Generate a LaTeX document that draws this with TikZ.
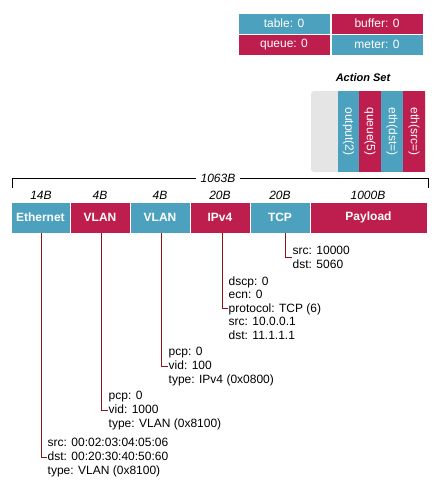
\documentclass[tikz,border=0pt]{standalone}
\usepackage{fontspec}
\setmainfont{Liberation Sans}
\definecolor{tealc}{RGB}{75,161,190}
\definecolor{redc}{RGB}{190,30,77}
\definecolor{connc}{RGB}{140,20,24}
\definecolor{grayc}{RGB}{229,229,229}
\begin{document}
\begin{tikzpicture}[x=1pt,y=-1pt,
  leg/.style={draw=white,line width=1pt,minimum width=92pt,minimum height=21pt,inner sep=0pt,text=white,font=\fontsize{12}{14}\selectfont},
  seg/.style={draw=white,line width=0.3pt,minimum height=31pt,inner sep=0pt,text=white,font=\fontsize{12}{14}\selectfont\bfseries},
  sz/.style={inner sep=0pt,font=\fontsize{12}{14}\selectfont\itshape},
  col/.style={minimum width=22pt,minimum height=81pt,inner sep=0pt},
  coltxt/.style={rotate=-90,text=white,inner sep=0pt,font=\fontsize{12}{14}\selectfont},
  info/.style={anchor=west,align=left,inner sep=0.5pt,font=\fontsize{12}{13.6}\selectfont},
  conn/.style={draw=connc,line width=0.8pt}]
\useasboundingbox (0,0) rectangle (438,488);
% legend
\node[leg,fill=tealc] (ltable) at (284,23.5) {table: 0};
\node[leg,fill=redc] (lbuffer) at (377,23.5) {buffer: 0};
\node[leg,fill=redc] (lqueue) at (284,44.5) {queue: 0};
\node[leg,fill=tealc] (lmeter) at (377,44.5) {meter: 0};
% action set
\node[inner sep=0pt,font=\fontsize{11}{13}\selectfont\bfseries\itshape] (astitle) at (363,78) {Action Set};
\fill[grayc,rounded corners=3pt] (311,91) rectangle (426,172);
\node[col,fill=tealc] (c1) at (348.5,131.5) {};
\node[col,fill=redc] (c2) at (370,131.5) {};
\node[col,fill=tealc] (c3) at (392,131.5) {};
\node[col,fill=redc] (c4) at (414,131.5) {};
\node[coltxt] (t1) at (c1) {output(2)};
\node[coltxt] (t2) at (c2) {queue(5)};
\node[coltxt] (t3) at (c3) {eth(dst=)};
\node[coltxt] (t4) at (c4) {eth(src=)};
% total brace
\coordinate (bl) at (12,188);
\coordinate (br) at (428,188);
\draw[line width=0.8pt] (bl) -- (12,178) -- (428,178) -- (br);
\node[sz,fill=white,inner xsep=5pt] (total) at (218,178) {1063B};
% segments
\node[seg,fill=tealc,minimum width=59.3pt] (eth) at (40.35,217.5) {Ethernet};
\node[seg,fill=redc,minimum width=60pt] (vlan1) at (100,217.5) {VLAN};
\node[seg,fill=tealc,minimum width=60pt] (vlan2) at (160,217.5) {VLAN};
\node[seg,fill=redc,minimum width=60pt] (ipv4) at (220,217.5) {IPv4};
\node[seg,fill=tealc,minimum width=60pt] (tcp) at (280,217.5) {TCP};
\node[seg,fill=redc,minimum width=117pt] (payload) at (368.5,217.5) {Payload};
% sizes
\node[sz] (s1) at (41,195) {14B};
\node[sz] (s2) at (100,195) {4B};
\node[sz] (s3) at (160,195) {4B};
\node[sz] (s4) at (220,195) {20B};
\node[sz] (s5) at (280,195) {20B};
\node[sz] (s6) at (368,195) {1000B};
% info text
\node[info] (tcptxt) at (292,257.5) {src: 10000\\dst: 5060};
\node[info] (ipv4txt) at (228,308) {dscp: 0\\ecn: 0\\protocol: TCP (6)\\src: 10.0.0.1\\dst: 11.1.1.1};
\node[info] (vlan2txt) at (168,366.5) {pcp: 0\\vid: 100\\type: IPv4 (0x0800)};
\node[info] (vlan1txt) at (108,410.5) {pcp: 0\\vid: 1000\\type: VLAN (0x8100)};
\node[info] (ethtxt) at (47,457.5) {src: 00:02:03:04:05:06\\dst: 00:20:30:40:50:60\\type: VLAN (0x8100)};
% connectors
\draw[conn] (tcptxt.west) -- ++(-7,0) coordinate (k5) -- (k5 |- tcp.south);
\draw[conn] (ipv4txt.west) -- ++(-6,0) coordinate (k4) -- (k4 |- ipv4.south);
\draw[conn] (vlan2txt.west) -- ++(-6.3,0) coordinate (k3) -- (k3 |- vlan2.south);
\draw[conn] (vlan1txt.west) -- ++(-6.3,0) coordinate (k2) -- (k2 |- vlan1.south);
\draw[conn] (ethtxt.west) -- ++(-5.3,0) coordinate (k1) -- (k1 |- eth.south);
\end{tikzpicture}
\end{document}
